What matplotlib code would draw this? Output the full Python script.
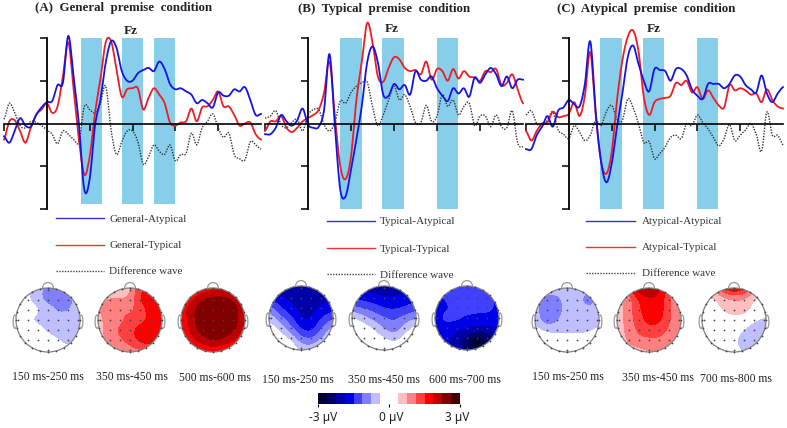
import numpy as np
import matplotlib
matplotlib.use('Agg')
import matplotlib.pyplot as plt
from matplotlib.colors import ListedColormap, BoundaryNorm
from matplotlib.patches import Circle, Arc

W, H = 787, 428
plt.rcParams['font.family'] = ['Liberation Serif', 'DejaVu Sans']

# time axis in ms, one reading every 25 ms
times = list(range(-200, 1001, 25))

# waveforms at Fz (uV)
general_atypical = [-.6, -.9, -.35, .25, -.1, -.15, .4, .75, 1.0, 1.05, 1.8, 1.9, 4.1, 2.2, -.05, -3.1, -2.6, -.1, 1.1, 2.85, 3.85, 3.55, 2.45, 2.0, 2.0, 2.35, 2.5, 2.6, 2.45, 2.9, 2.55, 1.85, 1.6, 1.65, 1.5, 1.35, .95, 1.1, .95, .75, 1.45, 1.3, 1.3, 1.6, 1.5, 1.7, 1.1, .4, .45]
general_typical = [-.75, .1, .15, -.35, -.9, -.2, .4, .65, .95, .5, .8, 2.2, 3.8, 1.6, -.75, -2.4, -1.55, .5, 2.05, 3.8, 3.85, 2.55, 1.25, 1.6, 1.65, 1.65, .65, 1.2, 1.65, 1.35, .95, .05, -.1, .05, .1, .7, .1, .75, .8, 1.1, 1.5, .8, .8, .4, -.1, 0, .05, -.5, -.75]
general_diff = [.2, .95, .5, -.1, -.2, .1, .05, -.1, -.3, -.5, -.95, -.35, -.5, -.75, -.85, .8, .65, .5, .95, 1.75, -.3, -1.45, -.85, -.35, -.35, -.85, -1.9, -1.55, -1.0, -1.3, -1.45, -1.0, -1.75, -1.45, -1.4, -.45, -1.0, -.2, .1, .45, -.2, -.65, -.45, -1.45, -1.65, -1.7, -.85, -1.0, -1.2]

typical_atypical = [-.5, -.5, -.2, .4, .1, -.1, .15, .7, -.05, -.2, -.15, .65, 3.25, -.1, -3.1, -3.4, -2.15, -.75, .8, 2.85, 3.6, 2.85, 1.35, 1.3, 1.85, 1.6, 1.8, 1.35, 2.45, 2.05, 2.0, 2.2, 1.65, 1.3, 1.05, 1.65, 1.4, 1.65, 1.25, 2.15, 1.9, 2.3, 2.6, 2.3, 1.75, 2.2, 1.65, 2.05, 2.05]
typical_typical = [-.35, .1, .1, .35, -.2, -.4, -.2, .1, .25, .4, .65, 1.45, 2.9, .35, -2.0, -2.6, -1.55, 1.1, 2.85, 4.7, 3.8, 2.2, 1.95, 2.6, 3.1, 3.0, 2.6, 2.45, 2.5, 2.3, 2.9, 2.05, 2.55, 2.45, 2.0, 2.55, 2.1, 2.45, 2.2, 2.15, 2.0, 2.45, 2.4, 2.55, 1.8, 1.9, 2.3, 1.6, .95]
typical_diff = [.25, .35, .6, -.05, -.2, .05, .2, -.35, .4, .65, .65, -.05, -.35, .05, 1.05, .95, 1.45, 1.75, 1.9, 1.95, .8, -.1, .4, 1.1, 1.75, 1.1, 1.35, .8, .05, .05, .85, .1, .35, 1.35, .8, 1.1, .4, .8, .95, -.1, .35, .35, -.15, .4, -.15, -.2, .6, -.9, -1.1]

atypical_atypical = [-1.2, -1.2, -.55, -.15, .35, -.15, .6, .75, 1.1, .9, .8, 1.85, 3.85, .6, -1.75, -2.75, -1.9, -.15, 1.4, 3.1, 3.65, 2.8, 2.0, 1.5, 2.55, 2.5, 2.45, 2.0, 2.55, 2.55, 2.25, 1.6, 1.3, 1.15, 1.85, 1.85, 1.85, 1.65, 1.85, 2.25, 2.2, 1.8, 1.6, 1.45, 2.25, 1.4, 1.0, 1.4, 1.7]
atypical_typical = [-.35, -.8, -.35, 0, .05, .55, .3, .35, .45, 1.0, .35, 1.3, 3.35, .45, -1.75, -2.35, -1.35, 1.1, 2.95, 4.05, 4.35, 3.4, 1.25, .4, 1.0, 1.15, 1.2, 1.3, 1.9, 1.8, 2.0, 1.45, 1.7, 1.15, 1.55, 1.2, .85, .75, 1.8, 1.55, 1.65, 1.55, 1.35, 1.4, 1.0, 1.6, 1.1, .8, .7]
atypical_diff = [.4, .6, 0, -.1, .15, .55, -.3, -.5, -.7, -.1, -.4, -.8, -.55, .15, -.1, .55, .85, .2, .15, 1.15, .75, 0, -.9, -.85, -1.65, -1.4, -1.1, -.65, -.55, -.7, 0, -.1, .4, .05, -.25, -.65, -1.05, -.7, -.05, -.8, -.55, -.3, 0, -.5, -1.3, .55, -.55, -.55, -1.0]

# shaded windows (start, end in ms)
windows_a = [(160, 256), (351, 451), (499, 600)]
windows_b = [(150, 251), (345, 447), (600, 698)]
windows_c = [(146, 247), (345, 443), (597, 695)]

# scalp values on a 7x7 grid, top row first (uV)
map_a1 = [[0, -.3, -.6, -.9, -.9, -.5, -.3], [-.2, -.3, -.6, -1.0, -1.0, -.9, -.5], [-.1, -.2, -.3, -.55, -.85, -.8, -.5], [-.1, -.3, -.5, -.55, -.55, -.55, -.45], [.1, 0, -.2, -.45, -.55, -.55, -.3], [.6, .25, 0, -.2, -.35, -.55, -.3], [.5, .5, .1, 0, -.1, -.2, -.1]]
map_a2 = [[.2, .3, .4, .6, 1.5, 1.5, 1.2], [.5, .8, .7, .8, 1.6, 1.7, 1.6], [.7, 1.0, 1.2, 1.0, 1.3, 1.7, 1.8], [.6, .9, 1.0, 1.25, 1.35, 1.6, 1.7], [.6, .9, 1.2, 1.4, 1.7, 1.8, 1.7], [.5, .9, 1.0, 1.3, 1.6, 1.7, 1.5], [.3, .5, .6, .8, 1.0, 1.0, .8]]
map_a3 = [[.9, 1.1, 1.5, 1.7, 1.7, 1.4, 1.0], [1.3, 1.8, 2.25, 2.4, 2.4, 2.2, 1.5], [1.6, 2.15, 2.5, 2.55, 2.55, 2.45, 1.85], [1.5, 2.15, 2.5, 2.55, 2.55, 2.5, 1.85], [1.4, 2.0, 2.45, 2.55, 2.5, 2.3, 1.65], [1.2, 1.7, 2.0, 2.3, 2.1, 1.8, 1.3], [.7, 1.1, 1.4, 1.5, 1.4, 1.1, .8]]
map_b1 = [[-2, -2.1, -2.1, -2.1, -2.1, -2.1, -2], [-1.6, -1.85, -2, -2.05, -2.05, -2, -1.8], [-1.0, -1.5, -1.8, -2.0, -2.0, -1.85, -1.7], [-.5, -1.0, -1.4, -1.95, -1.9, -1.5, -1.2], [-.1, -.5, -1.0, -1.6, -1.7, -1.1, -.6], [.1, -.1, -.4, -1.0, -1.1, -.7, -.3], [.6, .4, 0, -.5, -.5, -.2, -.1]]
map_b2 = [[-2, -2, -2.1, -2.1, -2.1, -2, -2], [-1.6, -1.7, -1.8, -1.9, -1.9, -1.8, -1.7], [-1.1, -1.2, -1.35, -1.55, -1.6, -1.5, -1.3], [-.3, -.6, -.9, -1.1, -1.2, -1.0, -.8], [0, -.1, -.4, -.8, -1.05, -.55, -.2], [0, 0, -.1, -.3, -.5, -.2, 0], [0, 0, 0, -.1, -.1, 0, 0]]
map_b3 = [[-1.4, -1.4, -1.4, -1.3, -1.4, -1.6, -1.7], [-1.6, -1.45, -1.3, -1.3, -1.3, -1.4, -1.6], [-1.7, -1.6, -1.35, -1.3, -1.4, -1.4, -1.6], [-1.7, -1.35, -1.4, -1.6, -1.6, -1.6, -1.7], [-1.7, -1.7, -1.8, -1.9, -2.0, -2.0, -1.8], [-1.7, -1.8, -2.1, -2.5, -3.0, -2.6, -1.95], [-1.6, -1.8, -2.0, -2.4, -2.8, -2.4, -1.9]]
map_c1 = [[-.1, -.3, -.4, -.45, -.5, -.5, -.3], [-.5, -1.05, -1.0, -.5, -.55, -1.1, -.7], [-.6, -1.1, -1.05, -.55, -.55, -.65, -.5], [-.5, -1.05, -.85, -.5, -.55, -.6, -.5], [-.2, -.45, -.5, -.5, -.5, -.45, -.3], [.1, 0, -.1, -.1, -.1, -.1, 0], [.5, .45, .4, .4, .4, .35, .3]]
map_c2 = [[.8, 1.2, 2.2, 2.4, 2.0, 1.2, .8], [.5, .85, 1.5, 1.8, 1.75, 1.05, .7], [.5, .9, 1.4, 1.8, 1.7, 1.15, .7], [.5, .9, 1.3, 1.65, 1.6, 1.1, .7], [.5, .85, 1.2, 1.35, 1.3, 1.0, .7], [.4, .8, .95, 1.0, 1.0, .85, .5], [.3, .5, .6, .7, .7, .5, .3]]
map_c3 = [[.3, .7, 1.5, 2.0, 1.6, .8, .3], [.2, .3, .6, .7, .7, .3, .1], [0, .1, .4, .6, .55, .2, 0], [0, 0, .1, .2, .1, -.35, -.6], [0, 0, 0, -.1, -.5, -.9, -.6], [0, 0, 0, -.3, -.7, -.7, -.3], [0, 0, 0, -.1, -.5, -.3, 0]]

legend_a = ['General-Atypical', 'General-Typical', 'Difference wave']
legend_b = ['Typical-Atypical', 'Typical-Typical', 'Difference wave']
legend_c = ['Atypical-Atypical', 'Atypical-Typical', 'Difference wave']

labels_a = ['150 ms-250 ms', '350 ms-450 ms', '500 ms-600 ms']
labels_b = ['150 ms-250 ms', '350 ms-450 ms', '600 ms-700 ms']
labels_c = ['150 ms-250 ms', '350 ms-450 ms', '700 ms-800 ms']

scale_colors = ['#000033', '#00006a', '#0000a8', '#0000e6', '#4040ff', '#8080ff', '#bfbfff', '#ffffff',
                '#ffffff', '#ffbfbf', '#ff8080', '#ff4040', '#ff0000', '#bf0000', '#800000', '#400000']
scale_levels = np.linspace(-3, 3, 17)
cmap = ListedColormap(scale_colors)
norm = BoundaryNorm(scale_levels, cmap.N)

fig = plt.figure(figsize=(W / 100, H / 100), dpi=100)


def px_axes(x0, y0, x1, y1):
    return fig.add_axes([x0 / W, 1 - y1 / H, (x1 - x0) / W, (y1 - y0) / H], facecolor='none')


def fig_text(x, y, s, **kw):
    fig.text(x / W, 1 - y / H, s, va='center', **kw)


# curve through the readings (Catmull-Rom), only so the line is drawn round
def rounded(xs, ys, n=8):
    xs = np.asarray(xs, float)
    p = np.asarray(ys, float)
    p = np.r_[p[0], p, p[-1]]
    out_x, out_y = [], []
    for i in range(len(xs) - 1):
        t = np.linspace(0, 1, n, endpoint=False)
        a, b, c, d = p[i], p[i + 1], p[i + 2], p[i + 3]
        out_y.append(.5 * (2 * b + (c - a) * t + (2 * a - 5 * b + 4 * c - d) * t ** 2 + (3 * b - a - 3 * c + d) * t ** 3))
        out_x.append(xs[i] + (xs[i + 1] - xs[i]) * t)
    return np.concatenate(out_x + [xs[-1:]]), np.concatenate(out_y + [p[-2:-1]])


def draw_erp(x0, x1, y0, y1, blue, red, diff, windows, bar_top, bar_bottom):
    ax = px_axes(x0, y0, x1, y1)
    ax.set_xlim(-200, 1000)
    ax.set_ylim(-4, 4)
    for start, end in windows:
        ax.fill_between([start, end], bar_bottom, bar_top, color='#87ceeb', lw=0, zorder=1)
    ax.plot(*rounded(times, diff), color='#333333', lw=1, ls=(0, (1, 1)), zorder=2, clip_on=False)
    ax.plot(*rounded(times, red), color='#ee1c25', lw=1.3, zorder=3, clip_on=False)
    ax.plot(*rounded(times, blue), color='#1414e6', lw=1.3, zorder=4, clip_on=False)
    for s in ['top', 'right']:
        ax.spines[s].set_visible(False)
    ax.spines['left'].set_position(('data', 0))
    ax.spines['bottom'].set_position(('data', 0))
    ax.spines['left'].set_linewidth(1.3)
    ax.spines['bottom'].set_linewidth(1.2)
    ax.spines['left'].set_zorder(6)
    ax.spines['bottom'].set_zorder(6)
    ax.set_xticks([-200, 200, 400, 600, 800])
    ax.set_yticks([-4, -2, 2, 4])
    ax.tick_params(length=5, width=1.1, labelbottom=False, labelleft=False)


def fine_field(values, up=12, box=9):
    z = np.array(values, float)
    grid = np.linspace(-1, 1, 7)
    fine = np.linspace(-1, 1, 6 * up + 1)
    rows = np.array([np.interp(fine, grid, r) for r in z])
    full = np.array([np.interp(fine, grid, c) for c in rows.T]).T
    # soften the grid corners so the contours come out round
    kernel = np.ones(box) / box
    pad = box
    full = np.pad(full, pad, mode='edge')
    for _ in range(2):
        full = np.apply_along_axis(np.convolve, 0, full, kernel, mode='same')
        full = np.apply_along_axis(np.convolve, 1, full, kernel, mode='same')
    return fine, full[pad:-pad, pad:-pad]


def draw_head(cx, cy, values):
    r = 32
    ax = px_axes(cx - 1.3 * r, cy - 1.3 * r, cx + 1.3 * r, cy + 1.3 * r)
    ax.set_xlim(-1.3, 1.3)
    ax.set_ylim(-1.3, 1.3)
    ax.axis('off')

    fine, z = fine_field(values)
    filled = ax.contourf(fine, fine[::-1], z, levels=scale_levels, cmap=cmap, norm=norm, extend='both')
    filled.set_clip_path(Circle((0, 0), 1, transform=ax.transData))

    ax.add_patch(Circle((0, 0), 1, fill=False, ec='#808080', lw=0.9))
    ax.add_patch(Arc((0, 1.0), .34, .34, theta1=0, theta2=180, ec='#999999', lw=0.9))
    ax.add_patch(Arc((-1.03, -.05), .12, .42, theta1=70, theta2=290, ec='#999999', lw=0.9))
    ax.add_patch(Arc((1.03, -.05), .12, .42, theta1=-110, theta2=110, ec='#999999', lw=0.9))

    # electrodes
    spots = np.arange(-3, 4) * .31
    ex, ey = np.meshgrid(spots, spots)
    inner = ex ** 2 + ey ** 2 < .88
    ang = np.linspace(0, 2 * np.pi, 24, endpoint=False)
    ax.scatter(ex[inner], ey[inner], s=1.6, color='#444444', lw=0, zorder=5)
    ax.scatter(np.cos(ang), np.sin(ang), s=1.6, color='#444444', lw=0, zorder=5, clip_on=False)


# (A)
draw_erp(4, 261, 38, 209, general_atypical, general_typical, general_diff, windows_a, 4.15, -3.75)
# (B)
draw_erp(265, 523, 38, 209, typical_atypical, typical_typical, typical_diff, windows_b, 4, -4)
# (C)
draw_erp(526, 783, 38, 209, atypical_atypical, atypical_typical, atypical_diff, windows_c, 4, -4)

# titles
fig_text(35, 8, '(A)  General  premise  condition', fontsize=9.3, fontweight='bold', color='#222222')
fig_text(298, 9, '(B)  Typical  premise  condition', fontsize=9.3, fontweight='bold', color='#222222')
fig_text(557, 9, '(C)  Atypical  premise  condition', fontsize=9.3, fontweight='bold', color='#222222')
for x, y in [(131, 31), (392, 29), (654, 29)]:
    fig_text(x, y, 'Fz', fontsize=9.5, fontweight='bold', ha='center', color='#222222')


# legends
def draw_legend(x0, x1, text_x, ys, names):
    colors = ['#3333cc', '#ee3333', '#444444']
    styles = ['-', '-', (0, (1, 1))]
    for y, name, c, ls in zip(ys, names, colors, styles):
        fig.add_artist(plt.Line2D([x0 / W, x1 / W], [1 - y / H, 1 - y / H], color=c, ls=ls, lw=1))
        fig_text(text_x, y + 1, name, fontsize=8, color='#333333')


draw_legend(56, 104, 109, [218, 245, 271], legend_a)
draw_legend(327, 375, 380, [221, 248, 274], legend_b)
draw_legend(586, 635, 642, [221, 247, 273], legend_c)

# scalp maps
for (cx, cy), vals in zip([(48, 320), (130, 320), (213, 320)], [map_a1, map_a2, map_a3]):
    draw_head(cx, cy, vals)
for (cx, cy), vals in zip([(301, 318), (384, 318), (467, 318)], [map_b1, map_b2, map_b3]):
    draw_head(cx, cy, vals)
for (cx, cy), vals in zip([(567, 320), (649, 320), (734, 320)], [map_c1, map_c2, map_c3]):
    draw_head(cx, cy, vals)

# window labels
for x, y, s in zip([48, 132, 215], [377, 377, 378], labels_a):
    fig_text(x, y, s, fontsize=8.4, ha='center', color='#222222')
for x, y, s in zip([298, 384, 465], [380, 380, 380], labels_b):
    fig_text(x, y, s, fontsize=8.4, ha='center', color='#222222')
for x, y, s in zip([568, 658, 736], [377, 378, 379], labels_c):
    fig_text(x, y, s, fontsize=8.4, ha='center', color='#222222')

# colour scale
cax = px_axes(318, 393, 460, 404)
cax.pcolormesh(scale_levels, [0, 1], [np.arange(16) * .375 - 2.8], cmap=cmap, norm=norm)
cax.set_yticks([])
cax.set_xticks([-3, 0, 3])
cax.set_xticklabels([])
cax.tick_params(length=2, width=.8)
for s in cax.spines.values():
    s.set_visible(False)
for x, s in zip([323, 391, 457], ['-3 µV', '0 µV', '3 µV']):
    fig_text(x, 418, s, fontsize=8.5, ha='center', family='Noto Sans', color='#222222')

fig.savefig('out.png', dpi=100)
